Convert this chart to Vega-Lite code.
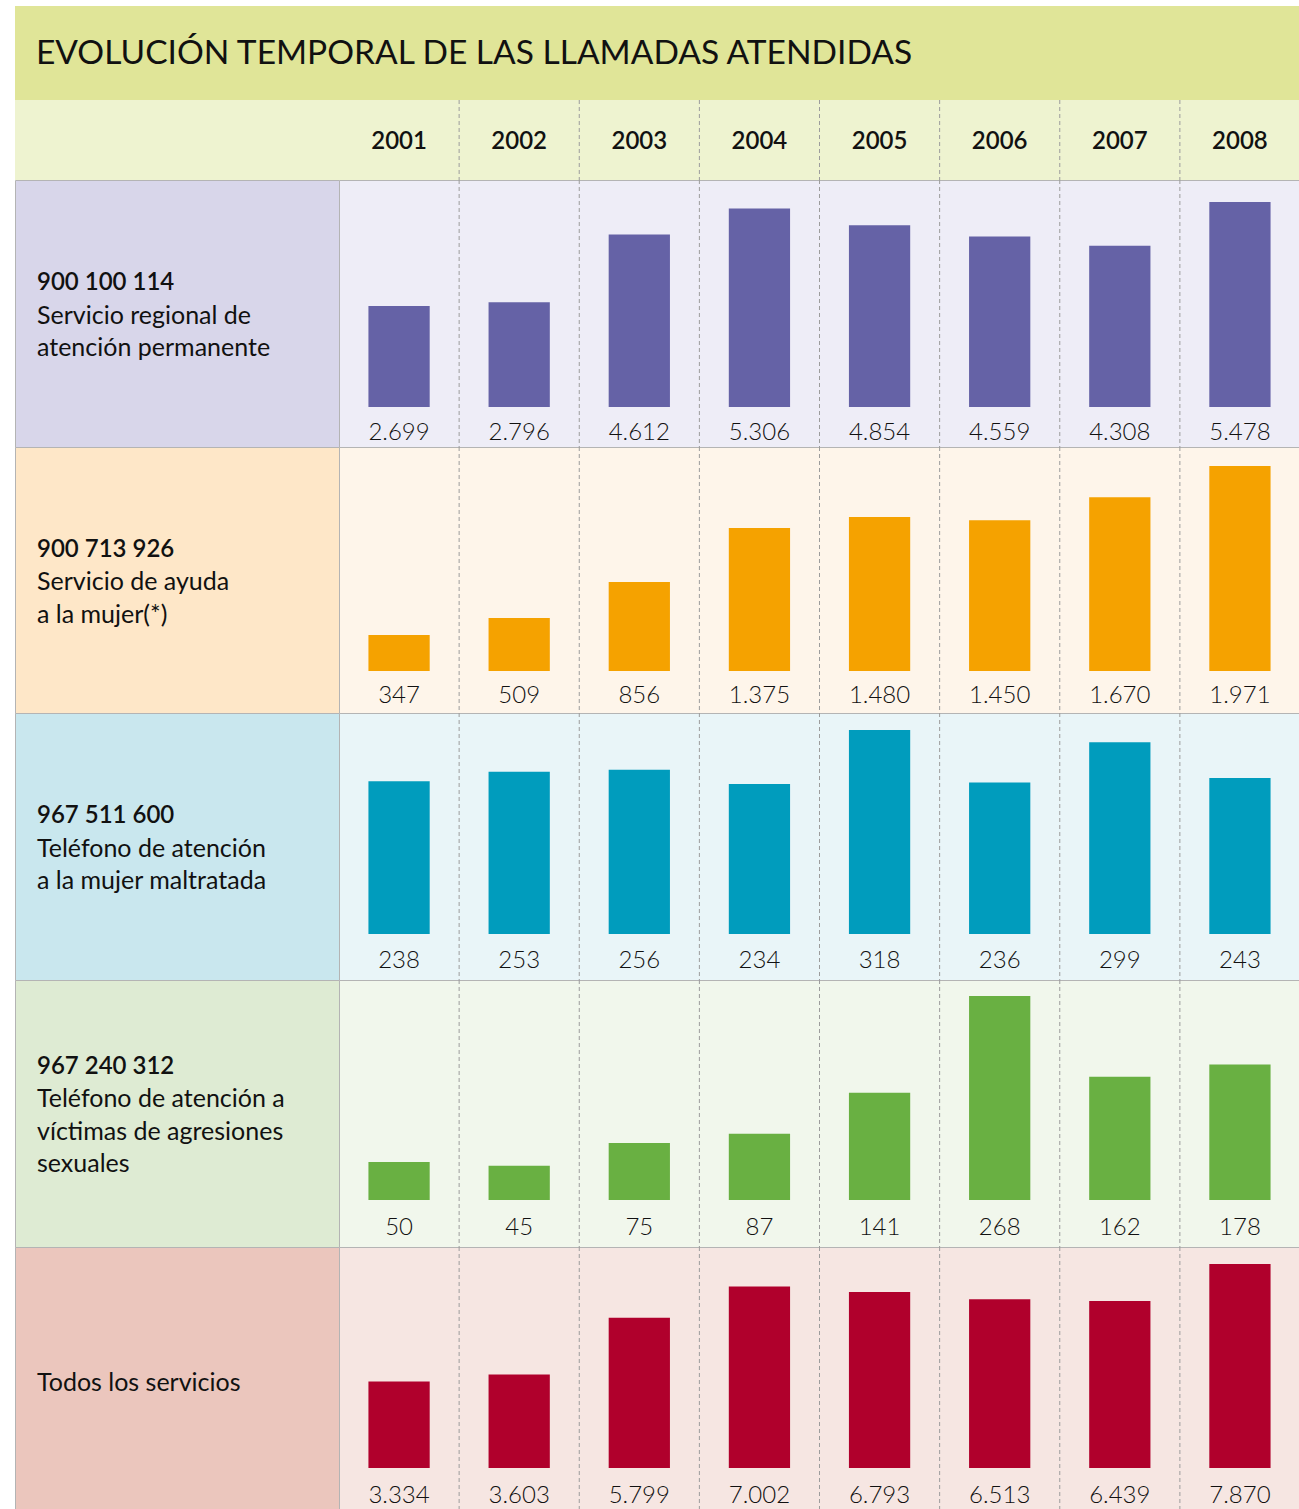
{
  "$schema": "https://vega.github.io/schema/vega-lite/v6.json",
  "padding": {"left": 14, "top": 6, "right": 0, "bottom": 0},
  "background": "white",
  "spacing": 0,
  "columns": 2,
  "bounds": "flush",
  "config": {
    "view": {"stroke": null},
    "concat": {"spacing": 0},
    "locale": {"number": {"decimal": ",", "thousands": ".", "grouping": [3], "currency": ["", " €"]}},
    "text": {"font": "Lato"}
  },
  "datasets": {
    "calls": [
      {"s": 1, "year": "2001", "value": 2699}, {"s": 1, "year": "2002", "value": 2796}, {"s": 1, "year": "2003", "value": 4612}, {"s": 1, "year": "2004", "value": 5306},
      {"s": 1, "year": "2005", "value": 4854}, {"s": 1, "year": "2006", "value": 4559}, {"s": 1, "year": "2007", "value": 4308}, {"s": 1, "year": "2008", "value": 5478},
      {"s": 2, "year": "2001", "value": 347}, {"s": 2, "year": "2002", "value": 509}, {"s": 2, "year": "2003", "value": 856}, {"s": 2, "year": "2004", "value": 1375},
      {"s": 2, "year": "2005", "value": 1480}, {"s": 2, "year": "2006", "value": 1450}, {"s": 2, "year": "2007", "value": 1670}, {"s": 2, "year": "2008", "value": 1971},
      {"s": 3, "year": "2001", "value": 238}, {"s": 3, "year": "2002", "value": 253}, {"s": 3, "year": "2003", "value": 256}, {"s": 3, "year": "2004", "value": 234},
      {"s": 3, "year": "2005", "value": 318}, {"s": 3, "year": "2006", "value": 236}, {"s": 3, "year": "2007", "value": 299}, {"s": 3, "year": "2008", "value": 243},
      {"s": 4, "year": "2001", "value": 50}, {"s": 4, "year": "2002", "value": 45}, {"s": 4, "year": "2003", "value": 75}, {"s": 4, "year": "2004", "value": 87},
      {"s": 4, "year": "2005", "value": 141}, {"s": 4, "year": "2006", "value": 268}, {"s": 4, "year": "2007", "value": 162}, {"s": 4, "year": "2008", "value": 178},
      {"s": 5, "year": "2001", "value": 3334}, {"s": 5, "year": "2002", "value": 3603}, {"s": 5, "year": "2003", "value": 5799}, {"s": 5, "year": "2004", "value": 7002},
      {"s": 5, "year": "2005", "value": 6793}, {"s": 5, "year": "2006", "value": 6513}, {"s": 5, "year": "2007", "value": 6439}, {"s": 5, "year": "2008", "value": 7870}
    ],
    "labels": [
      {"s": 1, "code": ["900 100 114", "", ""], "desc": ["", "Servicio regional de", "atención permanente"]},
      {"s": 2, "code": ["900 713 926", "", ""], "desc": ["", "Servicio de ayuda", "a la mujer(*)"]},
      {"s": 3, "code": ["967 511 600", "", ""], "desc": ["", "Teléfono de atención", "a la mujer maltratada"]},
      {"s": 4, "code": ["967 240 312", "", "", ""], "desc": ["", "Teléfono de atención a", "víctimas de agresiones", "sexuales"]},
      {"s": 5, "code": [""], "desc": ["Todos los servicios"]}
    ],
    "title": [{"t": "EVOLUCIÓN TEMPORAL DE LAS LLAMADAS ATENDIDAS"}]
  },
  "concat": [
    {
      "width": 324, "height": 94,
      "view": {"fill": "#e0e598", "stroke": null},
      "data": {"name": "title"},
      "mark": {"type": "text", "opacity": 0},
      "encoding": {"text": {"value": ""}}
    },
    {
      "width": 961, "height": 94,
      "view": {"fill": "#e0e598", "stroke": null},
      "data": {"name": "title"},
      "mark": {"type": "text", "align": "left", "baseline": "middle", "fontSize": 33.5, "dx": -303, "dy": 1, "color": "#111111", "font": "Lato"},
      "encoding": {
        "x": {"datum": 0, "type": "quantitative", "scale": {"domain": [0, 1]}, "axis": null},
        "text": {"field": "t"}
      }
    },
    {
      "width": 324, "height": 80,
      "view": {"fill": "#eef3d0", "stroke": null},
      "data": {"name": "title"},
      "mark": {"type": "text", "opacity": 0},
      "encoding": {"text": {"value": ""}}
    },
    {
      "width": 961, "height": 80,
      "view": {"fill": "#eef3d0", "stroke": null},
      "data": {"name": "calls"},
      "transform": [{"filter": "datum.s == 1"}],
      "encoding": {"x": {"field": "year", "type": "ordinal", "scale": {"paddingInner": 0, "paddingOuter": 0}, "axis": null}},
      "layer": [
        {"transform": [{"filter": "datum.year != '2008'"}], "mark": {"type": "rule", "strokeDash": [4, 3], "color": "#9c9c9c", "strokeWidth": 1}, "encoding": {"x": {"field": "year", "type": "ordinal", "bandPosition": 1}}},
        {"mark": {"type": "text", "fontSize": 24, "fontWeight": 600, "color": "#111111", "baseline": "middle", "dy": 2}, "encoding": {"text": {"field": "year"}}}
      ]
    },
    {
      "width": 324, "height": 267, "view": {"fill": "#d8d6ea", "stroke": "#b4b4b4"},
      "data": {"name": "labels"}, "transform": [{"filter": "datum.s == 1"}],
      "encoding": {"x": {"datum": 0, "type": "quantitative", "scale": {"domain": [0, 1]}, "axis": null}},
      "layer": [
        {"mark": {"type": "text", "align": "left", "baseline": "middle", "fontSize": 24, "fontWeight": 600, "lineHeight": 32.5, "dx": 22, "dy": -30.5, "color": "#111111"}, "encoding": {"text": {"field": "code"}}},
        {"mark": {"type": "text", "align": "left", "baseline": "middle", "fontSize": 25, "lineHeight": 32.5, "dx": 22, "dy": -30.5, "color": "#111111"}, "encoding": {"text": {"field": "desc"}}}
      ]
    },
    {
      "width": 961, "height": 267, "view": {"fill": "#eeedf7", "stroke": "#b4b4b4"},
      "data": {"name": "calls"}, "transform": [{"filter": "datum.s == 1"}],
      "encoding": {
        "x": {"field": "year", "type": "ordinal", "scale": {"paddingInner": 0, "paddingOuter": 0}, "axis": null},
        "y": {"field": "value", "type": "quantitative", "scale": {"zero": true, "nice": false, "range": [227, 22]}, "axis": null}
      },
      "layer": [
        {"transform": [{"filter": "datum.year != '2008'"}], "mark": {"type": "rule", "strokeDash": [4, 3], "color": "#9c9c9c", "strokeWidth": 1}, "encoding": {"x": {"field": "year", "type": "ordinal", "bandPosition": 1}, "y": null}},
        {"mark": {"type": "bar", "width": {"band": 0.51}, "color": "#6562a6"}},
        {"mark": {"type": "text", "fontSize": 24, "fontWeight": 300, "baseline": "middle", "dy": 26, "color": "#111111"}, "encoding": {"y": {"datum": 0, "type": "quantitative"}, "text": {"field": "value", "type": "quantitative", "format": ",d"}}}
      ]
    },
    {
      "width": 324, "height": 266, "view": {"fill": "#fee7c8", "stroke": "#b4b4b4"},
      "data": {"name": "labels"}, "transform": [{"filter": "datum.s == 2"}],
      "encoding": {"x": {"datum": 0, "type": "quantitative", "scale": {"domain": [0, 1]}, "axis": null}},
      "layer": [
        {"mark": {"type": "text", "align": "left", "baseline": "middle", "fontSize": 24, "fontWeight": 600, "lineHeight": 32.5, "dx": 22, "dy": -30.5, "color": "#111111"}, "encoding": {"text": {"field": "code"}}},
        {"mark": {"type": "text", "align": "left", "baseline": "middle", "fontSize": 25, "lineHeight": 32.5, "dx": 22, "dy": -30.5, "color": "#111111"}, "encoding": {"text": {"field": "desc"}}}
      ]
    },
    {
      "width": 961, "height": 266, "view": {"fill": "#fef5ea", "stroke": "#b4b4b4"},
      "data": {"name": "calls"}, "transform": [{"filter": "datum.s == 2"}],
      "encoding": {
        "x": {"field": "year", "type": "ordinal", "scale": {"paddingInner": 0, "paddingOuter": 0}, "axis": null},
        "y": {"field": "value", "type": "quantitative", "scale": {"zero": true, "nice": false, "range": [224, 19]}, "axis": null}
      },
      "layer": [
        {"transform": [{"filter": "datum.year != '2008'"}], "mark": {"type": "rule", "strokeDash": [4, 3], "color": "#9c9c9c", "strokeWidth": 1}, "encoding": {"x": {"field": "year", "type": "ordinal", "bandPosition": 1}, "y": null}},
        {"mark": {"type": "bar", "width": {"band": 0.51}, "color": "#f5a200"}},
        {"mark": {"type": "text", "fontSize": 24, "fontWeight": 300, "baseline": "middle", "dy": 25, "color": "#111111"}, "encoding": {"y": {"datum": 0, "type": "quantitative"}, "text": {"field": "value", "type": "quantitative", "format": ",d"}}}
      ]
    },
    {
      "width": 324, "height": 267, "view": {"fill": "#c9e7ee", "stroke": "#b4b4b4"},
      "data": {"name": "labels"}, "transform": [{"filter": "datum.s == 3"}],
      "encoding": {"x": {"datum": 0, "type": "quantitative", "scale": {"domain": [0, 1]}, "axis": null}},
      "layer": [
        {"mark": {"type": "text", "align": "left", "baseline": "middle", "fontSize": 24, "fontWeight": 600, "lineHeight": 32.5, "dx": 22, "dy": -30.5, "color": "#111111"}, "encoding": {"text": {"field": "code"}}},
        {"mark": {"type": "text", "align": "left", "baseline": "middle", "fontSize": 25, "lineHeight": 32.5, "dx": 22, "dy": -30.5, "color": "#111111"}, "encoding": {"text": {"field": "desc"}}}
      ]
    },
    {
      "width": 961, "height": 267, "view": {"fill": "#e9f5f8", "stroke": "#b4b4b4"},
      "data": {"name": "calls"}, "transform": [{"filter": "datum.s == 3"}],
      "encoding": {
        "x": {"field": "year", "type": "ordinal", "scale": {"paddingInner": 0, "paddingOuter": 0}, "axis": null},
        "y": {"field": "value", "type": "quantitative", "scale": {"zero": true, "nice": false, "range": [221, 17]}, "axis": null}
      },
      "layer": [
        {"transform": [{"filter": "datum.year != '2008'"}], "mark": {"type": "rule", "strokeDash": [4, 3], "color": "#9c9c9c", "strokeWidth": 1}, "encoding": {"x": {"field": "year", "type": "ordinal", "bandPosition": 1}, "y": null}},
        {"mark": {"type": "bar", "width": {"band": 0.51}, "color": "#009cbd"}},
        {"mark": {"type": "text", "fontSize": 24, "fontWeight": 300, "baseline": "middle", "dy": 27, "color": "#111111"}, "encoding": {"y": {"datum": 0, "type": "quantitative"}, "text": {"field": "value", "type": "quantitative", "format": ",d"}}}
      ]
    },
    {
      "width": 324, "height": 267, "view": {"fill": "#deebd3", "stroke": "#b4b4b4"},
      "data": {"name": "labels"}, "transform": [{"filter": "datum.s == 4"}],
      "encoding": {"x": {"datum": 0, "type": "quantitative", "scale": {"domain": [0, 1]}, "axis": null}},
      "layer": [
        {"mark": {"type": "text", "align": "left", "baseline": "middle", "fontSize": 24, "fontWeight": 600, "lineHeight": 32.5, "dx": 22, "dy": -46.75, "color": "#111111"}, "encoding": {"text": {"field": "code"}}},
        {"mark": {"type": "text", "align": "left", "baseline": "middle", "fontSize": 25, "lineHeight": 32.5, "dx": 22, "dy": -46.75, "color": "#111111"}, "encoding": {"text": {"field": "desc"}}}
      ]
    },
    {
      "width": 961, "height": 267, "view": {"fill": "#f1f7ec", "stroke": "#b4b4b4"},
      "data": {"name": "calls"}, "transform": [{"filter": "datum.s == 4"}],
      "encoding": {
        "x": {"field": "year", "type": "ordinal", "scale": {"paddingInner": 0, "paddingOuter": 0}, "axis": null},
        "y": {"field": "value", "type": "quantitative", "scale": {"zero": true, "nice": false, "range": [220, 16]}, "axis": null}
      },
      "layer": [
        {"transform": [{"filter": "datum.year != '2008'"}], "mark": {"type": "rule", "strokeDash": [4, 3], "color": "#9c9c9c", "strokeWidth": 1}, "encoding": {"x": {"field": "year", "type": "ordinal", "bandPosition": 1}, "y": null}},
        {"mark": {"type": "bar", "width": {"band": 0.51}, "color": "#69b042"}},
        {"mark": {"type": "text", "fontSize": 24, "fontWeight": 300, "baseline": "middle", "dy": 28, "color": "#111111"}, "encoding": {"y": {"datum": 0, "type": "quantitative"}, "text": {"field": "value", "type": "quantitative", "format": ",d"}}}
      ]
    },
    {
      "width": 324, "height": 267, "view": {"fill": "#ebc6bd", "stroke": "#b4b4b4"},
      "data": {"name": "labels"}, "transform": [{"filter": "datum.s == 5"}],
      "encoding": {"x": {"datum": 0, "type": "quantitative", "scale": {"domain": [0, 1]}, "axis": null}},
      "layer": [
        {"mark": {"type": "text", "align": "left", "baseline": "middle", "fontSize": 24, "fontWeight": 600, "lineHeight": 32.5, "dx": 22, "dy": 2, "color": "#111111"}, "encoding": {"text": {"field": "code"}}},
        {"mark": {"type": "text", "align": "left", "baseline": "middle", "fontSize": 25, "lineHeight": 32.5, "dx": 22, "dy": 2, "color": "#111111"}, "encoding": {"text": {"field": "desc"}}}
      ]
    },
    {
      "width": 961, "height": 267, "view": {"fill": "#f6e6e2", "stroke": "#b4b4b4"},
      "data": {"name": "calls"}, "transform": [{"filter": "datum.s == 5"}],
      "encoding": {
        "x": {"field": "year", "type": "ordinal", "scale": {"paddingInner": 0, "paddingOuter": 0}, "axis": null},
        "y": {"field": "value", "type": "quantitative", "scale": {"zero": true, "nice": false, "range": [221, 17]}, "axis": null}
      },
      "layer": [
        {"transform": [{"filter": "datum.year != '2008'"}], "mark": {"type": "rule", "strokeDash": [4, 3], "color": "#9c9c9c", "strokeWidth": 1}, "encoding": {"x": {"field": "year", "type": "ordinal", "bandPosition": 1}, "y": null}},
        {"mark": {"type": "bar", "width": {"band": 0.51}, "color": "#b0002c"}},
        {"mark": {"type": "text", "fontSize": 24, "fontWeight": 300, "baseline": "middle", "dy": 28, "color": "#111111"}, "encoding": {"y": {"datum": 0, "type": "quantitative"}, "text": {"field": "value", "type": "quantitative", "format": ",d"}}}
      ]
    }
  ]
}
